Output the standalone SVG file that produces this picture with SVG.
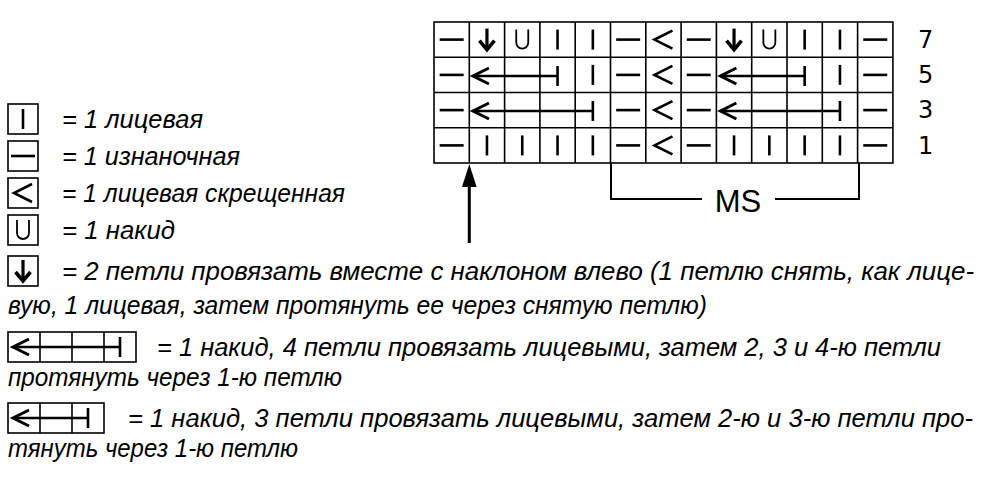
<svg xmlns="http://www.w3.org/2000/svg" xmlns:xlink="http://www.w3.org/1999/xlink" width="1000" height="490" viewBox="0 0 1000 490">
<style>
.g{fill:none;stroke:#000;stroke-width:1.6}
.s{fill:none;stroke:#000;stroke-width:2.6;stroke-linecap:butt}
.t{font-family:"Liberation Sans",Arial,sans-serif;font-style:italic;font-size:26px;fill:#000}
.n{font-family:"DejaVu Sans",sans-serif;font-size:24px;fill:#000}
.ms{font-family:"Liberation Sans",Arial,sans-serif;font-size:31px;fill:#000}
</style>
<defs>
<g id="purl"><line class="s" x1="-12" y1="0" x2="12" y2="0"/></g>
<g id="knit"><line class="s" x1="0" y1="-10" x2="0" y2="10"/></g>
<g id="tw"><polyline class="s" points="9,-9 -9,0 9,9"/></g>
<g id="yo"><path d="M-6,-10 V3 A6,6 0 0 0 6,3 V-10" fill="none" stroke="#000" stroke-width="1.8"/></g>
<g id="dec"><line x1="0" y1="-11" x2="0" y2="9" stroke="#000" stroke-width="3.2"/><polyline points="-7.5,1 0,10 7.5,1" fill="none" stroke="#000" stroke-width="3.6"/></g>
<g id="chev"><polyline points="17,-8 1,0 17,8" fill="none" stroke="#000" stroke-width="3"/><line x1="1" y1="0" x2="8" y2="0" stroke="#000" stroke-width="2.4"/></g>
</defs>

<g id="chart">
<rect class="g" x="434" y="22" width="458.9" height="141"/>
<path class="g" d="M469.3,22V163M504.6,22V163M539.9,22V163M575.2,22V163M610.5,22V163M645.8,22V163M681.1,22V163M716.4,22V163M751.7,22V163M787,22V163M822.3,22V163M857.6,22V163M434,57.25H892.9M434,92.5H892.9M434,127.75H892.9"/>
</g>

<g id="row7">
<use xlink:href="#purl" x="451.65" y="39.6"/>
<use xlink:href="#dec" x="486.95" y="39.6"/>
<use xlink:href="#yo" x="522.25" y="39.6"/>
<use xlink:href="#knit" x="557.55" y="39.6"/>
<use xlink:href="#knit" x="592.85" y="39.6"/>
<use xlink:href="#purl" x="628.15" y="39.6"/>
<use xlink:href="#tw" x="663.45" y="39.6"/>
<use xlink:href="#purl" x="698.75" y="39.6"/>
<use xlink:href="#dec" x="734.05" y="39.6"/>
<use xlink:href="#yo" x="769.35" y="39.6"/>
<use xlink:href="#knit" x="804.65" y="39.6"/>
<use xlink:href="#knit" x="839.95" y="39.6"/>
<use xlink:href="#purl" x="875.25" y="39.6"/>
</g>

<g id="row5">
<use xlink:href="#purl" x="451.65" y="74.9"/>
<use xlink:href="#chev" x="472" y="76"/>
<path class="s" d="M479,76H557.55M557.55,66V86" stroke-width="2.2"/>
<use xlink:href="#knit" x="592.85" y="74.9"/>
<use xlink:href="#purl" x="628.15" y="74.9"/>
<use xlink:href="#tw" x="663.45" y="74.9"/>
<use xlink:href="#purl" x="698.75" y="74.9"/>
<use xlink:href="#chev" x="719.4" y="76"/>
<path class="s" d="M726,76H804.65M804.65,66V86" stroke-width="2.2"/>
<use xlink:href="#knit" x="839.95" y="74.9"/>
<use xlink:href="#purl" x="875.25" y="74.9"/>
</g>

<g id="row3">
<use xlink:href="#purl" x="451.65" y="110.1"/>
<use xlink:href="#chev" x="472" y="111"/>
<path class="s" d="M479,111H592.85M592.85,101V121" stroke-width="2.2"/>
<use xlink:href="#purl" x="628.15" y="110.1"/>
<use xlink:href="#tw" x="663.45" y="110.1"/>
<use xlink:href="#purl" x="698.75" y="110.1"/>
<use xlink:href="#chev" x="719.4" y="111"/>
<path class="s" d="M726,111H839.95M839.95,101V121" stroke-width="2.2"/>
<use xlink:href="#purl" x="875.25" y="110.1"/>
</g>

<g id="row1">
<use xlink:href="#purl" x="451.65" y="145.4"/>
<use xlink:href="#knit" x="486.95" y="145.4"/>
<use xlink:href="#knit" x="522.25" y="145.4"/>
<use xlink:href="#knit" x="557.55" y="145.4"/>
<use xlink:href="#knit" x="592.85" y="145.4"/>
<use xlink:href="#purl" x="628.15" y="145.4"/>
<use xlink:href="#tw" x="663.45" y="145.4"/>
<use xlink:href="#purl" x="698.75" y="145.4"/>
<use xlink:href="#knit" x="734.05" y="145.4"/>
<use xlink:href="#knit" x="769.35" y="145.4"/>
<use xlink:href="#knit" x="804.65" y="145.4"/>
<use xlink:href="#knit" x="839.95" y="145.4"/>
<use xlink:href="#purl" x="875.25" y="145.4"/>
</g>

<g id="rownums">
<text class="n" x="918" y="48">7</text>
<text class="n" x="918" y="83">5</text>
<text class="n" x="918" y="118">3</text>
<text class="n" x="918" y="154">1</text>
</g>

<g id="connectors">
<line x1="469.3" y1="243" x2="469.3" y2="182" stroke="#000" stroke-width="3"/>
<polygon points="469.3,164 462,187 476.6,187" fill="#000"/>
<path d="M611,163V199H702M775,199H859V163" fill="none" stroke="#000" stroke-width="2"/>
</g>
<g id="ms"><text class="ms" x="738" y="212" text-anchor="middle">MS</text></g>

<g id="legend-knit">
<rect class="g" x="8" y="104" width="30" height="30"/>
<use xlink:href="#knit" x="23" y="119"/>
<text class="t" x="62" y="128" textLength="141" lengthAdjust="spacingAndGlyphs">= 1 лицевая</text>
</g>
<g id="legend-purl">
<rect class="g" x="8" y="141" width="30" height="30"/>
<use xlink:href="#purl" x="23" y="156"/>
<text class="t" x="62" y="165" textLength="178" lengthAdjust="spacingAndGlyphs">= 1 изнаночная</text>
</g>
<g id="legend-twist">
<rect class="g" x="8" y="178" width="30" height="30"/>
<use xlink:href="#tw" x="23" y="193"/>
<text class="t" x="62" y="202" textLength="283" lengthAdjust="spacingAndGlyphs">= 1 лицевая скрещенная</text>
</g>
<g id="legend-yo">
<rect class="g" x="8" y="215" width="30" height="30"/>
<use xlink:href="#yo" x="23" y="230"/>
<text class="t" x="62" y="239" textLength="113" lengthAdjust="spacingAndGlyphs">= 1 накид</text>
</g>
<g id="legend-dec">
<rect class="g" x="8" y="256" width="30" height="30"/>
<use xlink:href="#dec" x="23" y="271"/>
<text class="t" x="62" y="280" textLength="912" lengthAdjust="spacingAndGlyphs">= 2 петли провязать вместе с наклоном влево (1 петлю снять, как лице-</text>
<text class="t" x="8" y="314" textLength="699" lengthAdjust="spacingAndGlyphs">вую, 1 лицевая, затем протянуть ее через снятую петлю)</text>
</g>
<g id="legend-4">
<rect class="g" x="8" y="332" width="128" height="30"/>
<path class="g" d="M40,332V362M72,332V362M104,332V362"/>
<use xlink:href="#chev" x="12" y="347"/>
<path class="s" d="M19,347H120M120,337V357" stroke-width="2.2"/>
<text class="t" x="157" y="356" textLength="784" lengthAdjust="spacingAndGlyphs">= 1 накид, 4 петли провязать лицевыми, затем 2, 3 и 4-ю петли</text>
<text class="t" x="8" y="386" textLength="334" lengthAdjust="spacingAndGlyphs">протянуть через 1-ю петлю</text>
</g>
<g id="legend-3">
<rect class="g" x="8" y="403" width="96" height="30"/>
<path class="g" d="M40,403V433M72,403V433"/>
<use xlink:href="#chev" x="12" y="418"/>
<path class="s" d="M19,418H88M88,408V428" stroke-width="2.2"/>
<text class="t" x="128" y="427" textLength="845" lengthAdjust="spacingAndGlyphs">= 1 накид, 3 петли провязать лицевыми, затем 2-ю и 3-ю петли про-</text>
<text class="t" x="8" y="457" textLength="290" lengthAdjust="spacingAndGlyphs">тянуть через 1-ю петлю</text>
</g>
</svg>
